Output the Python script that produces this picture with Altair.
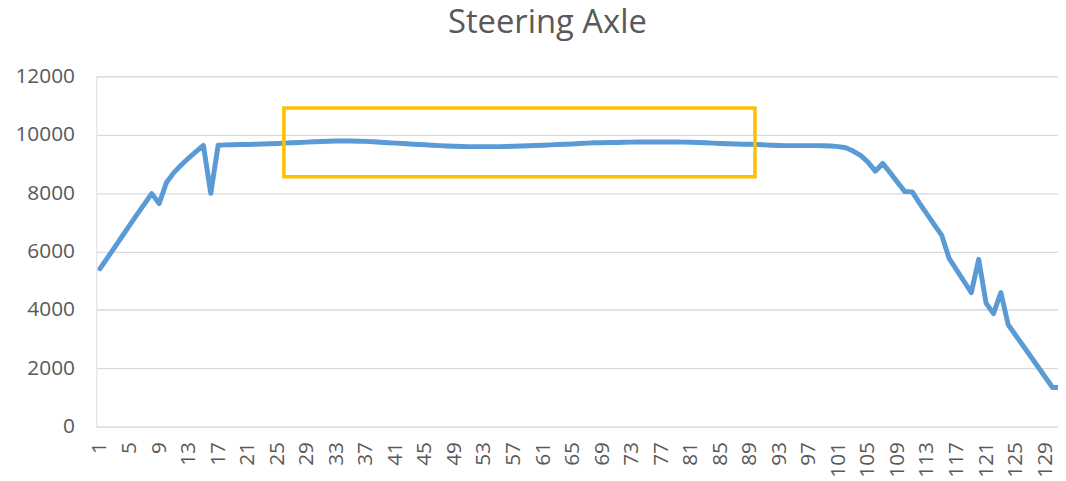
import altair as alt
import pandas as pd

# ---- data ----
categories = list(range(1, 132))
load_values = [
    5410, 5780, 6150, 6520, 6890, 7260, 7620, 7980, 7640, 8360,
    8700, 8960, 9200, 9420, 9630, 7990, 9640, 9650, 9655, 9660,
    9665, 9670, 9680, 9690, 9700, 9710, 9720, 9735, 9745, 9755,
    9765, 9775, 9780, 9780, 9780, 9775, 9770, 9755, 9740, 9725,
    9710, 9695, 9680, 9665, 9655, 9640, 9625, 9610, 9600, 9595,
    9590, 9590, 9590, 9590, 9590, 9595, 9605, 9610, 9620, 9630,
    9640, 9650, 9660, 9670, 9680, 9695, 9710, 9720, 9725, 9730,
    9735, 9740, 9745, 9750, 9750, 9750, 9750, 9750, 9750, 9745,
    9740, 9735, 9720, 9710, 9700, 9690, 9680, 9675, 9670, 9665,
    9650, 9640, 9630, 9625, 9625, 9625, 9625, 9625, 9620, 9610,
    9590, 9550, 9440, 9290, 9060, 8750, 9015, 8700, 8370, 8050,
    8040, 7650, 7280, 6910, 6550, 5760, 5370, 4980, 4590, 5730,
    4230, 3870, 4590, 3490, 3130, 2780, 2420, 2060, 1700, 1340,
    1340,
]
x_tick_labels = list(range(1, 130, 4))
y_tick_values = [0, 2000, 4000, 6000, 8000, 10000, 12000]

# highlighted window (orange box)
highlight_x = [25.9, 89.7]
highlight_y = [8560, 10910]

df = pd.DataFrame({"point": categories, "load": load_values})
box = pd.DataFrame({"x": [highlight_x[0]], "x2": [highlight_x[1]],
                    "y": [highlight_y[0]], "y2": [highlight_y[1]]})

FONT = "Open Sans"
GREY = "#595959"

x_scale = alt.Scale(domain=[0.5, 130.74], nice=False, zero=False)
y_scale = alt.Scale(domain=[0, 12000], nice=False)

x_axis = alt.Axis(values=x_tick_labels, format="d", labelAngle=-90,
                  labelAlign="right", labelBaseline="middle",
                  labelPadding=15, ticks=False, domain=False, grid=False,
                  labelFont=FONT, labelFontSize=21, labelColor=GREY,
                  labelOverlap=False, labelFlush=False, labelBound=False,
                  title=None)
y_axis = alt.Axis(values=y_tick_values, format="d", ticks=False, domain=False,
                  grid=True, gridColor="#D9D9D9", gridWidth=1.3,
                  labelPadding=22, labelFont=FONT, labelFontSize=21,
                  labelColor=GREY, title=None)

line = alt.Chart(df).mark_line(
    color="#5B9BD5", strokeWidth=5, strokeJoin="round", strokeCap="round", clip=True
).encode(
    x=alt.X("point:Q", scale=x_scale, axis=x_axis),
    y=alt.Y("load:Q", scale=y_scale, axis=y_axis),
)

rect = alt.Chart(box).mark_rect(
    fill=None, fillOpacity=0, stroke="#FFC000", strokeWidth=3.5
).encode(
    x=alt.X("x:Q", scale=x_scale, axis=x_axis),
    x2="x2:Q",
    y=alt.Y("y:Q", scale=y_scale, axis=y_axis),
    y2="y2:Q",
)

chart = alt.layer(line, rect).properties(
    width=969,
    height=353,
    title=alt.TitleParams(
        "Steering Axle", font=FONT, fontSize=33, fontWeight="normal",
        color=GREY, anchor="middle", dx=-30, offset=0, baseline="alphabetic"),
    autosize=alt.AutoSizeParams(type="none"),
    padding={"left": 89, "top": 67, "right": 0, "bottom": 53},
).configure_view(strokeWidth=0).configure(background="white")

chart.save("out.html", embed_options={"renderer": "svg", "actions": False})
